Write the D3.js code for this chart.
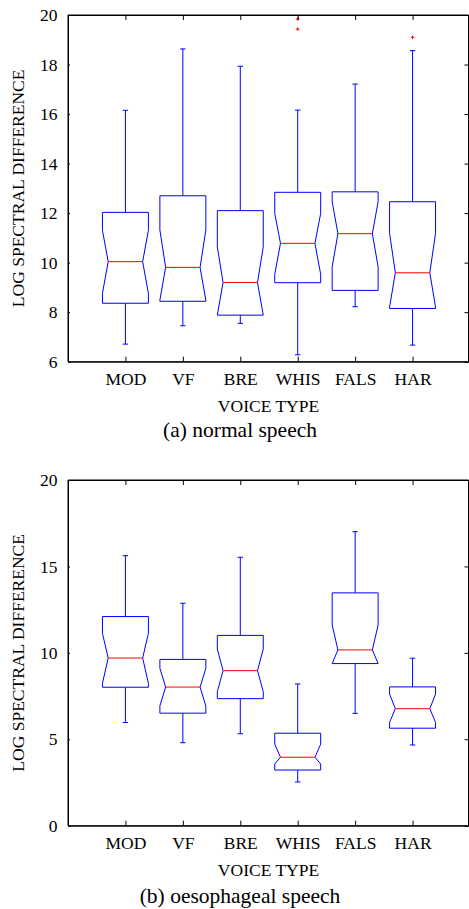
<!DOCTYPE html>
<html>
<head>
<meta charset="utf-8">
<script src="https://cdn.jsdelivr.net/npm/d3@7"></script>
<style>
  html, body { margin: 0; padding: 0; background: #fff; }
  svg { display: block; }
  text { font-family: "Liberation Serif", "Times New Roman", serif; fill: #000; }
</style>
</head>
<body>
<svg id="chart" width="469" height="909"></svg>
<script>
// ---- Data ----
const categories = ["MOD", "VF", "BRE", "WHIS", "FALS", "HAR"];

// (a) normal speech
const normalUpper   = [16.15, 18.63, 17.93, 16.16, 17.21, 18.56];
const normalQ3      = [12.03, 12.70, 12.10, 12.84, 12.86, 12.46];
const normalNotchHi = [11.30, 11.32, 10.64, 11.99, 12.46, 11.18];
const normalMedian  = [10.04,  9.81,  9.20, 10.78, 11.17,  9.59];
const normalNotchLo = [ 8.76,  8.49,  7.88,  9.53,  9.83,  8.21];
const normalQ1      = [ 8.36,  8.44,  7.88,  9.19,  8.88,  8.15];
const normalLower   = [ 6.71,  7.45,  7.55,  6.28,  8.22,  6.67];
const normalOutlierCat = ["WHIS", "WHIS", "HAR"];
const normalOutlierVal = [19.84, 19.43, 19.10];
const normalTicks = [6, 8, 10, 12, 14, 16, 18, 20];

// (b) oesophageal speech
const oesoUpper   = [15.62, 12.87, 15.53, 8.20, 17.01, 9.69];
const oesoQ3      = [12.10,  9.62, 11.01, 5.35, 13.47, 8.03];
const oesoNotchHi = [11.13,  9.11, 10.22, 4.72, 11.61, 7.61];
const oesoMedian  = [ 9.70,  8.02,  8.97, 3.96, 10.17, 6.77];
const oesoNotchLo = [ 8.24,  6.93,  7.75, 3.57,  9.38, 5.98];
const oesoQ1      = [ 8.01,  6.51,  7.35, 3.22,  9.38, 5.64];
const oesoLower   = [ 5.97,  4.80,  5.32, 2.53,  6.50, 4.67];
const oesoOutlierCat = [];
const oesoOutlierVal = [];
const oesoTicks = [0, 5, 10, 15, 20];

const yLabel = "LOG SPECTRAL DIFFERENCE";
const xLabel = "VOICE TYPE";
const captionA = "(a) normal speech";
const captionB = "(b) oesophageal speech";

// ---- Drawing ----
const svg = d3.select("#chart");
const left = 68, right = 468.5;
const BLUE = "#0000ff", RED = "#ff0000";
const FS = 17.5;

function drawPanel(opt) {
  const g = svg.append("g");
  const x = d3.scaleLinear().domain([0, categories.length + 1]).range([left, 470]);
  const y = d3.scaleLinear().domain(opt.domain).range([opt.bottom, opt.top]);
  const idx = categories.map((c, i) => i + 1);

  const boxHalf = 0.4, notchHalf = 0.3, cap = 2.7;

  const boxes = categories.map((c, i) => ({
    c, i: i + 1,
    up: opt.upper[i], q3: opt.q3[i], nh: opt.notchHi[i], med: opt.median[i],
    nl: opt.notchLo[i], q1: opt.q1[i], lo: opt.lower[i]
  }));

  // whiskers
  g.selectAll(".wu").data(boxes).join("line")
    .attr("x1", d => x(d.i)).attr("x2", d => x(d.i))
    .attr("y1", d => y(d.q3)).attr("y2", d => y(d.up))
    .attr("stroke", BLUE).attr("stroke-width", 1);
  g.selectAll(".wl").data(boxes).join("line")
    .attr("x1", d => x(d.i)).attr("x2", d => x(d.i))
    .attr("y1", d => y(d.q1)).attr("y2", d => y(d.lo))
    .attr("stroke", BLUE).attr("stroke-width", 1);
  g.selectAll(".cu").data(boxes).join("line")
    .attr("x1", d => x(d.i) - cap).attr("x2", d => x(d.i) + cap)
    .attr("y1", d => y(d.up)).attr("y2", d => y(d.up))
    .attr("stroke", BLUE).attr("stroke-width", 1);
  g.selectAll(".cl").data(boxes).join("line")
    .attr("x1", d => x(d.i) - cap).attr("x2", d => x(d.i) + cap)
    .attr("y1", d => y(d.lo)).attr("y2", d => y(d.lo))
    .attr("stroke", BLUE).attr("stroke-width", 1);

  // notched boxes
  g.selectAll(".box").data(boxes).join("path")
    .attr("d", d => {
      const xl = x(d.i - boxHalf), xr = x(d.i + boxHalf);
      const nl = x(d.i - notchHalf), nr = x(d.i + notchHalf);
      const pts = [
        [xl, y(d.q3)], [xr, y(d.q3)], [xr, y(d.nh)], [nr, y(d.med)],
        [xr, y(d.nl)], [xr, y(d.q1)], [xl, y(d.q1)], [xl, y(d.nl)],
        [nl, y(d.med)], [xl, y(d.nh)]
      ];
      return d3.line()(pts) + "Z";
    })
    .attr("fill", "none").attr("stroke", BLUE).attr("stroke-width", 1);

  // medians
  g.selectAll(".med").data(boxes).join("line")
    .attr("x1", d => x(d.i - notchHalf)).attr("x2", d => x(d.i + notchHalf))
    .attr("y1", d => y(d.med)).attr("y2", d => y(d.med))
    .attr("stroke", RED).attr("stroke-width", 1);

  // outliers
  const outs = opt.outCat.map((c, k) => ({ i: categories.indexOf(c) + 1, v: opt.outVal[k] }));
  const o = g.selectAll(".out").data(outs).join("g")
    .attr("transform", d => `translate(${x(d.i)},${y(d.v)})`);
  o.append("line").attr("x1", -1.8).attr("x2", 1.8).attr("stroke", RED).attr("stroke-width", 1);
  o.append("line").attr("y1", -1.8).attr("y2", 1.8).attr("stroke", RED).attr("stroke-width", 1);

  // axes
  const yAxis = d3.axisLeft(y).tickValues(opt.ticks).tickSize(-2).tickSizeOuter(0).tickPadding(10.5);
  const ga = g.append("g").attr("transform", `translate(${left},0)`).call(yAxis);
  const yRight = d3.axisRight(y).tickValues(opt.ticks).tickSize(-4).tickSizeOuter(0).tickFormat("");
  g.append("g").attr("transform", `translate(${right},0)`).call(yRight);
  const xTop = d3.axisTop(x).tickValues(idx).tickSize(-5).tickSizeOuter(0).tickFormat("");
  g.append("g").attr("transform", `translate(0,${opt.top})`).call(xTop);
  const xBottom = d3.axisBottom(x).tickValues(idx).tickSize(-5).tickSizeOuter(0)
    .tickPadding(11).tickFormat(d => categories[d - 1]);
  g.append("g").attr("transform", `translate(0,${opt.bottom})`).call(xBottom);

  g.selectAll(".domain").attr("stroke", "#000").attr("stroke-width", 1);
  g.selectAll(".tick line").attr("stroke", "#000").attr("stroke-width", 1);
  g.selectAll(".tick text").attr("font-family", "Liberation Serif").attr("font-size", FS).attr("fill", "#000");

  // frame (domain paths only span the scales; close the frame)
  g.append("line").attr("x1", left).attr("x2", right).attr("y1", opt.top).attr("y2", opt.top).attr("stroke", "#000");
  g.append("line").attr("x1", left).attr("x2", right).attr("y1", opt.bottom).attr("y2", opt.bottom).attr("stroke", "#000");
  g.append("line").attr("x1", left).attr("x2", left).attr("y1", opt.top).attr("y2", opt.bottom).attr("stroke", "#000");
  g.append("line").attr("x1", right).attr("x2", right).attr("y1", opt.top).attr("y2", opt.bottom).attr("stroke", "#000");

  // labels
  g.append("text")
    .attr("transform", `translate(23.5,${(opt.top + opt.bottom) / 2}) rotate(-90)`)
    .attr("text-anchor", "middle").attr("font-size", FS).text(yLabel);
  g.append("text").attr("x", (left + 469) / 2).attr("y", opt.bottom + 50)
    .attr("text-anchor", "middle").attr("font-size", FS).text(xLabel);
  g.append("text").attr("x", 240).attr("y", opt.captionY)
    .attr("text-anchor", "middle").attr("font-size", 21.5).text(opt.caption);
}

drawPanel({
  top: 15, bottom: 361.7, domain: [6, 20], ticks: normalTicks,
  upper: normalUpper, q3: normalQ3, notchHi: normalNotchHi, median: normalMedian,
  notchLo: normalNotchLo, q1: normalQ1, lower: normalLower,
  outCat: normalOutlierCat, outVal: normalOutlierVal,
  caption: captionA, captionY: 437
});
drawPanel({
  top: 480, bottom: 825.7, domain: [0, 20], ticks: oesoTicks,
  upper: oesoUpper, q3: oesoQ3, notchHi: oesoNotchHi, median: oesoMedian,
  notchLo: oesoNotchLo, q1: oesoQ1, lower: oesoLower,
  outCat: oesoOutlierCat, outVal: oesoOutlierVal,
  caption: captionB, captionY: 903
});
</script>
</body>
</html>
